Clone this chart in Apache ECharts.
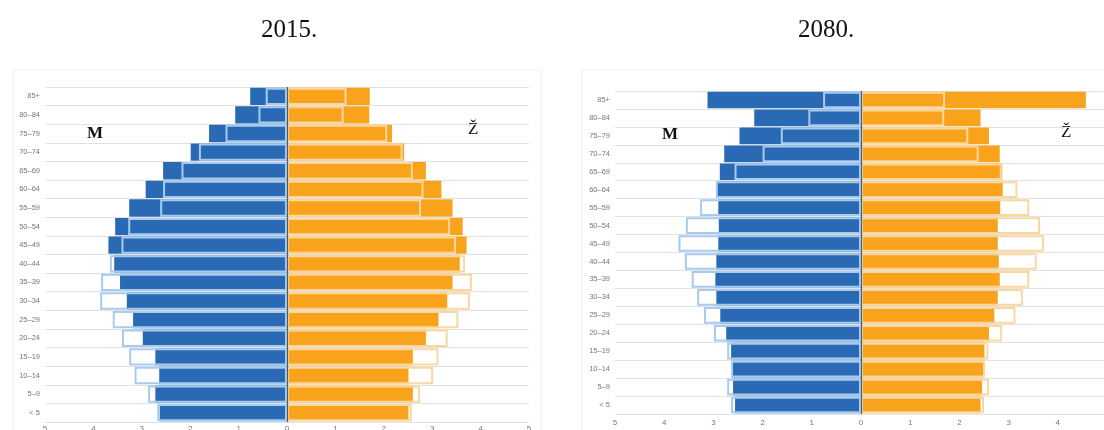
<!DOCTYPE html>
<html>
<head>
<meta charset="utf-8">
<script src="https://cdn.jsdelivr.net/npm/echarts@6/dist/echarts.min.js"></script>
<style>
html,body{margin:0;padding:0;background:#fff;}
#chart{width:1104px;height:430px;}
</style>
</head>
<body>
<div id="chart"></div>
<script>
// Age groups, bottom to top
const ageGroups = ['< 5','5–9','10–14','15–19','20–24','25–29','30–34','35–39','40–44','45–49','50–54','55–59','60–64','65–69','70–74','75–79','80–84','85+'];
const xTicks = [-5,-4,-3,-2,-1,0,1,2,3,4,5];

// 2015 (percent of population)
const male2015 =      [2.63,2.72,2.64,2.72,2.98,3.18,3.31,3.45,3.57,3.69,3.55,3.26,2.92,2.56,1.99,1.61,1.07,0.76];
const male2015Ref =   [2.68,2.87,3.15,3.26,3.41,3.60,3.86,3.84,3.66,3.42,3.28,2.62,2.56,2.18,1.82,1.27,0.59,0.44];
const female2015 =    [2.51,2.60,2.51,2.60,2.87,3.13,3.31,3.42,3.57,3.71,3.63,3.42,3.19,2.87,2.42,2.17,1.70,1.71];
const female2015Ref = [2.58,2.75,3.02,3.13,3.32,3.54,3.78,3.82,3.68,3.49,3.37,2.77,2.82,2.60,2.39,2.07,1.17,1.23];

// 2080
const male2080 =      [2.56,2.60,2.62,2.64,2.74,2.86,2.94,2.96,2.94,2.90,2.89,2.90,2.93,2.87,2.78,2.47,2.17,3.12];
const male2080Ref =   [2.64,2.72,2.64,2.72,2.99,3.19,3.33,3.44,3.58,3.71,3.56,3.27,2.95,2.57,2.00,1.63,1.07,0.77];
const female2080 =    [2.43,2.46,2.49,2.51,2.60,2.71,2.78,2.82,2.80,2.78,2.78,2.83,2.88,2.87,2.82,2.60,2.43,4.57];
const female2080Ref = [2.50,2.60,2.52,2.59,2.87,3.14,3.29,3.42,3.57,3.72,3.64,3.42,3.18,2.86,2.39,2.18,1.69,1.71];

const BLUE = '#2a6ab4', ORANGE = '#f8a31b', BLUE_OUT = '#a6cbee', ORANGE_OUT = '#fbd7a0';
const neg = a => a.map(v => -v);

function axesFor(idx, labelMargin){
  return {
    x: {
      type:'value', gridIndex:idx, min:-5, max:5, interval:1,
      axisLine:{show:false}, axisTick:{show:false}, splitLine:{show:false},
      axisLabel:{formatter:v=>Math.abs(v), fontSize:8, color:'#777', margin:labelMargin, fontFamily:'Arial, Liberation Sans'}
    },
    y: {
      type:'category', gridIndex:idx, data:ageGroups,
      axisLine:{show:false}, axisTick:{show:false},
      splitLine:{show:true, lineStyle:{color:'#e2e2e2', width:1}},
      axisLabel:{fontSize:7.5, color:'#777', margin:5, fontFamily:'Arial, Liberation Sans'}
    }
  };
}
const a0 = axesFor(0, 3), a1 = axesFor(1, 5);

function filled(idx, data, color){
  return {type:'bar', xAxisIndex:idx, yAxisIndex:idx, data:data, barGap:'-100%', barCategoryGap:'7%',
    itemStyle:{color:color}, silent:true, z:2};
}
function outline(idx, data, color){
  return {type:'bar', xAxisIndex:idx, yAxisIndex:idx, data:data, barGap:'-100%', barCategoryGap:'7%',
    itemStyle:{color:'rgba(0,0,0,0)', borderColor:color, borderWidth:2}, silent:true, z:3};
}
function zeroLine(idx){
  return {type:'line', xAxisIndex:idx, yAxisIndex:idx, data:[], silent:true, z:4,
    markLine:{symbol:'none', silent:true, label:{show:false}, lineStyle:{color:'#4d5b6b', width:1.2, type:'solid'}, data:[{xAxis:0}]}};
}

const chart = echarts.init(document.getElementById('chart'));
chart.setOption({
  animation:false,
  backgroundColor:'#fff',
  title:[
    {text:'2015.', left:284, top:13, textAlign:'center', textStyle:{fontFamily:'Liberation Serif', fontSize:25, fontWeight:'normal', color:'#111'}},
    {text:'2080.', left:821, top:13, textAlign:'center', textStyle:{fontFamily:'Liberation Serif', fontSize:25, fontWeight:'normal', color:'#111'}}
  ],
  grid:[
    {left:45, width:484, top:87, bottom:8, outerBoundsMode:'none', containLabel:false},
    {left:615, width:492, top:91, bottom:16, outerBoundsMode:'none', containLabel:false}
  ],
  xAxis:[a0.x, a1.x],
  yAxis:[a0.y, a1.y],
  graphic:[
    {type:'rect', shape:{x:13, y:70, width:528, height:380}, style:{fill:'none', stroke:'#f0f0f0', lineWidth:1}, silent:true, z:-1},
    {type:'rect', shape:{x:582, y:70, width:540, height:380}, style:{fill:'none', stroke:'#f0f0f0', lineWidth:1}, silent:true, z:-1},
    {type:'text', left:87, top:125, style:{text:'M', font:'bold 17px "Liberation Serif"', fill:'#111'}},
    {type:'text', left:468, top:121, style:{text:'Ž', font:'17px "Liberation Serif"', fill:'#111'}},
    {type:'text', left:662, top:126, style:{text:'M', font:'bold 17px "Liberation Serif"', fill:'#111'}},
    {type:'text', left:1061, top:124, style:{text:'Ž', font:'17px "Liberation Serif"', fill:'#111'}}
  ],
  series:[
    filled(0, neg(male2015), BLUE),
    filled(0, female2015, ORANGE),
    outline(0, neg(male2015Ref), BLUE_OUT),
    outline(0, female2015Ref, ORANGE_OUT),
    zeroLine(0),
    filled(1, neg(male2080), BLUE),
    filled(1, female2080, ORANGE),
    outline(1, neg(male2080Ref), BLUE_OUT),
    outline(1, female2080Ref, ORANGE_OUT),
    zeroLine(1)
  ]
});
</script>
</body>
</html>
